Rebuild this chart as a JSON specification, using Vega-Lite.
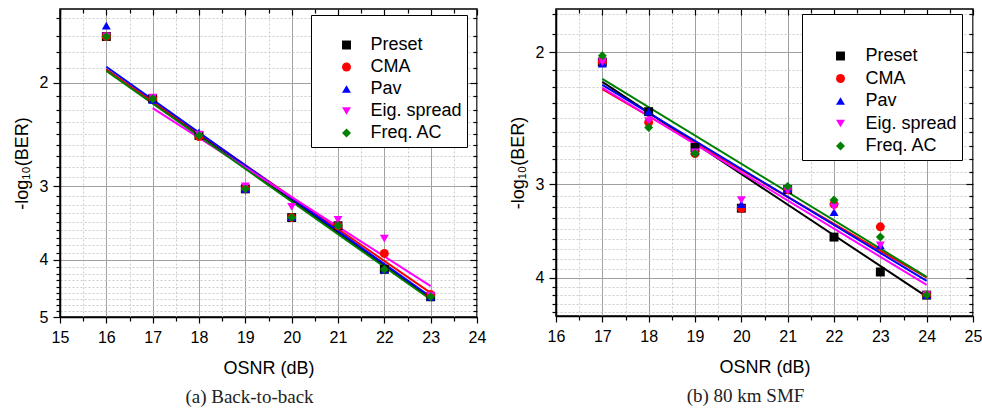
{
  "$schema": "https://vega.github.io/schema/vega-lite/v6.json",
  "background": "white",
  "padding": {"left": 12, "top": 5, "right": 5, "bottom": 2},
  "config": {
    "font": "Liberation Sans",
    "view": {"stroke": "black", "strokeWidth": 1.5},
    "concat": {"spacing": 21},
    "axis": {
      "labelFont": "Liberation Sans", "labelFontSize": 16, "labelColor": "black",
      "titleFont": "Liberation Sans", "titleFontSize": 18, "titleFontWeight": "normal", "titleColor": "black",
      "tickColor": "black", "domainColor": "black", "domainWidth": 1.5, "tickWidth": 1.2,
      "labelOverlap": false, "labelFlush": false
    }
  },
  "datasets": {
    "pa": [
      {"osnr": 16, "v": 1.67, "method": "Preset"}, {"osnr": 17, "v": 2.13, "method": "Preset"}, {"osnr": 18, "v": 2.46, "method": "Preset"}, {"osnr": 19, "v": 3.03, "method": "Preset"},
      {"osnr": 20, "v": 3.39, "method": "Preset"}, {"osnr": 21, "v": 3.50, "method": "Preset"}, {"osnr": 22, "v": 4.15, "method": "Preset"}, {"osnr": 23, "v": 4.62, "method": "Preset"},
      {"osnr": 16, "v": 1.67, "method": "CMA"}, {"osnr": 17, "v": 2.13, "method": "CMA"}, {"osnr": 18, "v": 2.47, "method": "CMA"}, {"osnr": 19, "v": 3.03, "method": "CMA"},
      {"osnr": 20, "v": 3.39, "method": "CMA"}, {"osnr": 21, "v": 3.50, "method": "CMA"}, {"osnr": 22, "v": 3.90, "method": "CMA"}, {"osnr": 23, "v": 4.58, "method": "CMA"},
      {"osnr": 16, "v": 1.60, "method": "Pav"}, {"osnr": 17, "v": 2.14, "method": "Pav"}, {"osnr": 18, "v": 2.43, "method": "Pav"}, {"osnr": 19, "v": 3.03, "method": "Pav"},
      {"osnr": 20, "v": 3.38, "method": "Pav"}, {"osnr": 21, "v": 3.47, "method": "Pav"}, {"osnr": 22, "v": 4.15, "method": "Pav"}, {"osnr": 23, "v": 4.62, "method": "Pav"},
      {"osnr": 16, "v": 1.67, "method": "Eig. spread"}, {"osnr": 17, "v": 2.12, "method": "Eig. spread"}, {"osnr": 18, "v": 2.45, "method": "Eig. spread"}, {"osnr": 19, "v": 3.00, "method": "Eig. spread"},
      {"osnr": 20, "v": 3.25, "method": "Eig. spread"}, {"osnr": 21, "v": 3.42, "method": "Eig. spread"}, {"osnr": 22, "v": 3.68, "method": "Eig. spread"}, {"osnr": 23, "v": 4.60, "method": "Eig. spread"},
      {"osnr": 16, "v": 1.67, "method": "Freq. AC"}, {"osnr": 17, "v": 2.13, "method": "Freq. AC"}, {"osnr": 18, "v": 2.46, "method": "Freq. AC"}, {"osnr": 19, "v": 3.03, "method": "Freq. AC"},
      {"osnr": 20, "v": 3.39, "method": "Freq. AC"}, {"osnr": 21, "v": 3.50, "method": "Freq. AC"}, {"osnr": 22, "v": 4.15, "method": "Freq. AC"}, {"osnr": 23, "v": 4.62, "method": "Freq. AC"}
    ],
    "la": [
      {"osnr": 16, "v": 1.90, "method": "Preset"}, {"osnr": 23, "v": 4.65, "method": "Preset"},
      {"osnr": 16, "v": 1.90, "method": "CMA"}, {"osnr": 23, "v": 4.55, "method": "CMA"},
      {"osnr": 16, "v": 1.88, "method": "Pav"}, {"osnr": 23, "v": 4.62, "method": "Pav"},
      {"osnr": 17, "v": 2.21, "method": "Eig. spread"}, {"osnr": 23, "v": 4.43, "method": "Eig. spread"},
      {"osnr": 16, "v": 1.91, "method": "Freq. AC"}, {"osnr": 23, "v": 4.67, "method": "Freq. AC"}
    ],
    "pb": [
      {"osnr": 17, "v": 2.06, "method": "Preset"}, {"osnr": 18, "v": 2.40, "method": "Preset"}, {"osnr": 19, "v": 2.68, "method": "Preset"}, {"osnr": 20, "v": 3.23, "method": "Preset"},
      {"osnr": 21, "v": 3.05, "method": "Preset"}, {"osnr": 22, "v": 3.53, "method": "Preset"}, {"osnr": 23, "v": 3.93, "method": "Preset"}, {"osnr": 24, "v": 4.22, "method": "Preset"},
      {"osnr": 17, "v": 2.06, "method": "CMA"}, {"osnr": 18, "v": 2.48, "method": "CMA"}, {"osnr": 19, "v": 2.73, "method": "CMA"}, {"osnr": 20, "v": 3.23, "method": "CMA"},
      {"osnr": 21, "v": 3.05, "method": "CMA"}, {"osnr": 22, "v": 3.19, "method": "CMA"}, {"osnr": 23, "v": 3.42, "method": "CMA"}, {"osnr": 24, "v": 4.22, "method": "CMA"},
      {"osnr": 17, "v": 2.07, "method": "Pav"}, {"osnr": 18, "v": 2.40, "method": "Pav"}, {"osnr": 19, "v": 2.71, "method": "Pav"}, {"osnr": 20, "v": 3.19, "method": "Pav"},
      {"osnr": 21, "v": 3.04, "method": "Pav"}, {"osnr": 22, "v": 3.27, "method": "Pav"}, {"osnr": 23, "v": 3.62, "method": "Pav"}, {"osnr": 24, "v": 4.22, "method": "Pav"},
      {"osnr": 17, "v": 2.06, "method": "Eig. spread"}, {"osnr": 18, "v": 2.47, "method": "Eig. spread"}, {"osnr": 19, "v": 2.72, "method": "Eig. spread"}, {"osnr": 20, "v": 3.15, "method": "Eig. spread"},
      {"osnr": 21, "v": 3.06, "method": "Eig. spread"}, {"osnr": 22, "v": 3.22, "method": "Eig. spread"}, {"osnr": 23, "v": 3.62, "method": "Eig. spread"}, {"osnr": 24, "v": 4.22, "method": "Eig. spread"},
      {"osnr": 17, "v": 2.02, "method": "Freq. AC"}, {"osnr": 18, "v": 2.52, "method": "Freq. AC"}, {"osnr": 19, "v": 2.73, "method": "Freq. AC"},
      {"osnr": 21, "v": 3.02, "method": "Freq. AC"}, {"osnr": 22, "v": 3.15, "method": "Freq. AC"}, {"osnr": 23, "v": 3.53, "method": "Freq. AC"}, {"osnr": 24, "v": 4.22, "method": "Freq. AC"}
    ],
    "lb": [
      {"osnr": 17, "v": 2.19, "method": "Preset"}, {"osnr": 24, "v": 4.24, "method": "Preset"},
      {"osnr": 17, "v": 2.24, "method": "CMA"}, {"osnr": 24, "v": 4.00, "method": "CMA"},
      {"osnr": 17, "v": 2.21, "method": "Pav"}, {"osnr": 24, "v": 4.04, "method": "Pav"},
      {"osnr": 17, "v": 2.23, "method": "Eig. spread"}, {"osnr": 24, "v": 4.09, "method": "Eig. spread"},
      {"osnr": 17, "v": 2.17, "method": "Freq. AC"}, {"osnr": 24, "v": 3.99, "method": "Freq. AC"}
    ]
  },
  "hconcat": [
    {
      "width": 417, "height": 308,
      "title": {"text": "(a) Back-to-back", "orient": "bottom", "anchor": "middle", "frame": "bounds", "font": "Liberation Serif", "fontSize": 19, "fontWeight": "normal", "color": "#222222", "offset": 11},
      "layer": [
        {
          "data": {"name": "la"},
          "mark": {"type": "line", "strokeWidth": 2},
          "encoding": {
            "x": {"field": "osnr", "type": "quantitative", "scale": {"domain": [15, 24]},
              "axis": {"orient": "bottom", "title": "OSNR (dB)", "values": [15,15.5,16,16.5,17,17.5,18,18.5,19,19.5,20,20.5,21,21.5,22,22.5,23,23.5,24],
                "labelExpr": "datum.value % 1 === 0 ? format(datum.value, 'd') : ''",
                "tickSize": {"condition": {"test": "datum.value % 1 === 0", "value": 6}, "value": 4},
                "gridDash": {"condition": {"test": "datum.value % 1 === 0", "value": []}, "value": [2, 2]},
                "gridColor": {"condition": {"test": "datum.value % 1 === 0", "value": "#a0a0a0"}, "value": "#cccccc"},
                "grid": true, "labelPadding": 6, "titlePadding": 14}},
            "y": {"field": "v", "type": "quantitative", "scale": {"type": "log", "domain": [1.5, 5], "reverse": true},
              "axis": {"orient": "left", "title": "-log₁₀(BER)", "values": [1.5556,1.6667,1.7778,1.8889,2,2.1111,2.2222,2.3333,2.4444,2.5556,2.6667,2.7778,2.8889,3,3.1111,3.2222,3.3333,3.4444,3.5556,3.6667,3.7778,3.8889,4,4.1111,4.2222,4.3333,4.4444,4.5556,4.6667,4.7778,4.8889,5],
                "labelExpr": "datum.value % 1 === 0 ? format(datum.value, 'd') : ''",
                "tickSize": {"condition": {"test": "datum.value % 1 === 0", "value": 7}, "value": 4},
                "gridDash": {"condition": {"test": "datum.value % 1 === 0", "value": []}, "value": [2, 2]},
                "gridColor": {"condition": {"test": "datum.value % 1 === 0", "value": "#a0a0a0"}, "value": "#cccccc"},
                "grid": true, "labelPadding": 5, "titlePadding": 8}},
            "stroke": {"field": "method", "type": "nominal", "scale": {"range": ["#ff0000", "#ff00ff", "#008000", "#0000ff", "#000000"]}, "legend": null},
            "detail": {"field": "method"}
          }
        },
        {
          "data": {"name": "pa"},
          "mark": {"type": "point", "filled": true, "size": 80, "opacity": 1},
          "encoding": {
            "x": {"field": "osnr", "type": "quantitative", "scale": {"domain": [15, 24]},
              "axis": {"orient": "top", "title": null, "labels": false, "grid": false, "domain": false, "values": [15,15.5,16,16.5,17,17.5,18,18.5,19,19.5,20,20.5,21,21.5,22,22.5,23,23.5,24],
                "tickSize": {"condition": {"test": "datum.value % 1 === 0", "value": -6}, "value": -4}}},
            "y": {"field": "v", "type": "quantitative", "scale": {"type": "log", "domain": [1.5, 5], "reverse": true},
              "axis": {"orient": "right", "title": null, "labels": false, "grid": false, "domain": false, "values": [1.5556,1.6667,1.7778,1.8889,2,2.1111,2.2222,2.3333,2.4444,2.5556,2.6667,2.7778,2.8889,3,3.1111,3.2222,3.3333,3.4444,3.5556,3.6667,3.7778,3.8889,4,4.1111,4.2222,4.3333,4.4444,4.5556,4.6667,4.7778,4.8889,5],
                "tickSize": {"condition": {"test": "datum.value % 1 === 0", "value": -7}, "value": -4}}},
            "color": {"field": "method", "type": "nominal", "scale": {"domain": ["Preset", "CMA", "Pav", "Eig. spread", "Freq. AC"], "range": ["#000000", "#ff0000", "#0000ff", "#ff00ff", "#008000"]},
              "legend": {"orient": "none", "legendX": 251, "legendY": 6, "title": " ", "titleFontSize": 5, "titlePadding": 11, "strokeColor": "black", "fillColor": "white", "padding": 5,
                "labelFont": "Liberation Sans", "labelFontSize": 18, "labelColor": "black", "labelExpr": "datum.label + '\u00a0'", "symbolOffset": 21.5, "labelOffset": 15, "rowPadding": 4, "symbolSize": 80, "symbolStrokeWidth": 0}},
            "shape": {"field": "method", "type": "nominal", "scale": {"domain": ["Preset", "CMA", "Pav", "Eig. spread", "Freq. AC"], "range": ["square", "circle", "triangle-up", "triangle-down", "diamond"]},
              "legend": {"orient": "none", "legendX": 251, "legendY": 6, "title": " ", "titleFontSize": 5, "titlePadding": 11, "strokeColor": "black", "fillColor": "white", "padding": 5,
                "labelFont": "Liberation Sans", "labelFontSize": 18, "labelColor": "black", "labelExpr": "datum.label + '\u00a0'", "symbolOffset": 21.5, "labelOffset": 15, "rowPadding": 4, "symbolSize": 80, "symbolStrokeWidth": 0}}
          }
        }
      ],
      "resolve": {"axis": {"x": "independent", "y": "independent"}}
    },
    {
      "width": 417, "height": 307,
      "title": {"text": "(b) 80 km SMF", "orient": "bottom", "anchor": "middle", "frame": "bounds", "font": "Liberation Serif", "fontSize": 19, "fontWeight": "normal", "color": "#222222", "offset": 11},
      "layer": [
        {
          "data": {"name": "lb"},
          "mark": {"type": "line", "strokeWidth": 2},
          "encoding": {
            "x": {"field": "osnr", "type": "quantitative", "scale": {"domain": [16, 25]},
              "axis": {"orient": "bottom", "title": "OSNR (dB)", "values": [16,16.5,17,17.5,18,18.5,19,19.5,20,20.5,21,21.5,22,22.5,23,23.5,24,24.5,25],
                "labelExpr": "datum.value % 1 === 0 ? format(datum.value, 'd') : ''",
                "tickSize": {"condition": {"test": "datum.value % 1 === 0", "value": 6}, "value": 4},
                "gridDash": {"condition": {"test": "datum.value % 1 === 0", "value": []}, "value": [2, 2]},
                "gridColor": {"condition": {"test": "datum.value % 1 === 0", "value": "#a0a0a0"}, "value": "#cccccc"},
                "grid": true, "labelPadding": 6, "titlePadding": 14}},
            "y": {"field": "v", "type": "quantitative", "scale": {"type": "log", "domain": [1.75, 4.5], "reverse": true},
              "axis": {"orient": "left", "title": "-log₁₀(BER)", "values": [1.7778,1.8889,2,2.1111,2.2222,2.3333,2.4444,2.5556,2.6667,2.7778,2.8889,3,3.1111,3.2222,3.3333,3.4444,3.5556,3.6667,3.7778,3.8889,4,4.1111,4.2222,4.3333,4.4444],
                "labelExpr": "datum.value % 1 === 0 ? format(datum.value, 'd') : ''",
                "tickSize": {"condition": {"test": "datum.value % 1 === 0", "value": 7}, "value": 4},
                "gridDash": {"condition": {"test": "datum.value % 1 === 0", "value": []}, "value": [2, 2]},
                "gridColor": {"condition": {"test": "datum.value % 1 === 0", "value": "#a0a0a0"}, "value": "#cccccc"},
                "grid": true, "labelPadding": 5, "titlePadding": 8}},
            "stroke": {"field": "method", "type": "nominal", "scale": {"range": ["#ff0000", "#ff00ff", "#008000", "#0000ff", "#000000"]}, "legend": null},
            "detail": {"field": "method"}
          }
        },
        {
          "data": {"name": "pb"},
          "mark": {"type": "point", "filled": true, "size": 80, "opacity": 1},
          "encoding": {
            "x": {"field": "osnr", "type": "quantitative", "scale": {"domain": [16, 25]},
              "axis": {"orient": "top", "title": null, "labels": false, "grid": false, "domain": false, "values": [16,16.5,17,17.5,18,18.5,19,19.5,20,20.5,21,21.5,22,22.5,23,23.5,24,24.5,25],
                "tickSize": {"condition": {"test": "datum.value % 1 === 0", "value": -6}, "value": -4}}},
            "y": {"field": "v", "type": "quantitative", "scale": {"type": "log", "domain": [1.75, 4.5], "reverse": true},
              "axis": {"orient": "right", "title": null, "labels": false, "grid": false, "domain": false, "values": [1.7778,1.8889,2,2.1111,2.2222,2.3333,2.4444,2.5556,2.6667,2.7778,2.8889,3,3.1111,3.2222,3.3333,3.4444,3.5556,3.6667,3.7778,3.8889,4,4.1111,4.2222,4.3333,4.4444],
                "tickSize": {"condition": {"test": "datum.value % 1 === 0", "value": -7}, "value": -4}}},
            "color": {"field": "method", "type": "nominal", "scale": {"domain": ["Preset", "CMA", "Pav", "Eig. spread", "Freq. AC"], "range": ["#000000", "#ff0000", "#0000ff", "#ff00ff", "#008000"]},
              "legend": {"orient": "none", "legendX": 246, "legendY": 5, "title": " ", "titleFontSize": 12, "titlePadding": 16, "strokeColor": "black", "fillColor": "white", "padding": 5,
                "labelFont": "Liberation Sans", "labelFontSize": 18, "labelColor": "black", "labelExpr": "datum.label + '\u00a0'", "symbolOffset": 24.5, "labelOffset": 16, "rowPadding": 4.5, "symbolSize": 80, "symbolStrokeWidth": 0}},
            "shape": {"field": "method", "type": "nominal", "scale": {"domain": ["Preset", "CMA", "Pav", "Eig. spread", "Freq. AC"], "range": ["square", "circle", "triangle-up", "triangle-down", "diamond"]},
              "legend": {"orient": "none", "legendX": 246, "legendY": 5, "title": " ", "titleFontSize": 12, "titlePadding": 16, "strokeColor": "black", "fillColor": "white", "padding": 5,
                "labelFont": "Liberation Sans", "labelFontSize": 18, "labelColor": "black", "labelExpr": "datum.label + '\u00a0'", "symbolOffset": 24.5, "labelOffset": 16, "rowPadding": 4.5, "symbolSize": 80, "symbolStrokeWidth": 0}}
          }
        }
      ],
      "resolve": {"axis": {"x": "independent", "y": "independent"}}
    }
  ],
  "resolve": {"scale": {"color": "independent", "shape": "independent", "stroke": "independent", "x": "independent", "y": "independent"}, "legend": {"color": "independent", "shape": "independent"}}
}
